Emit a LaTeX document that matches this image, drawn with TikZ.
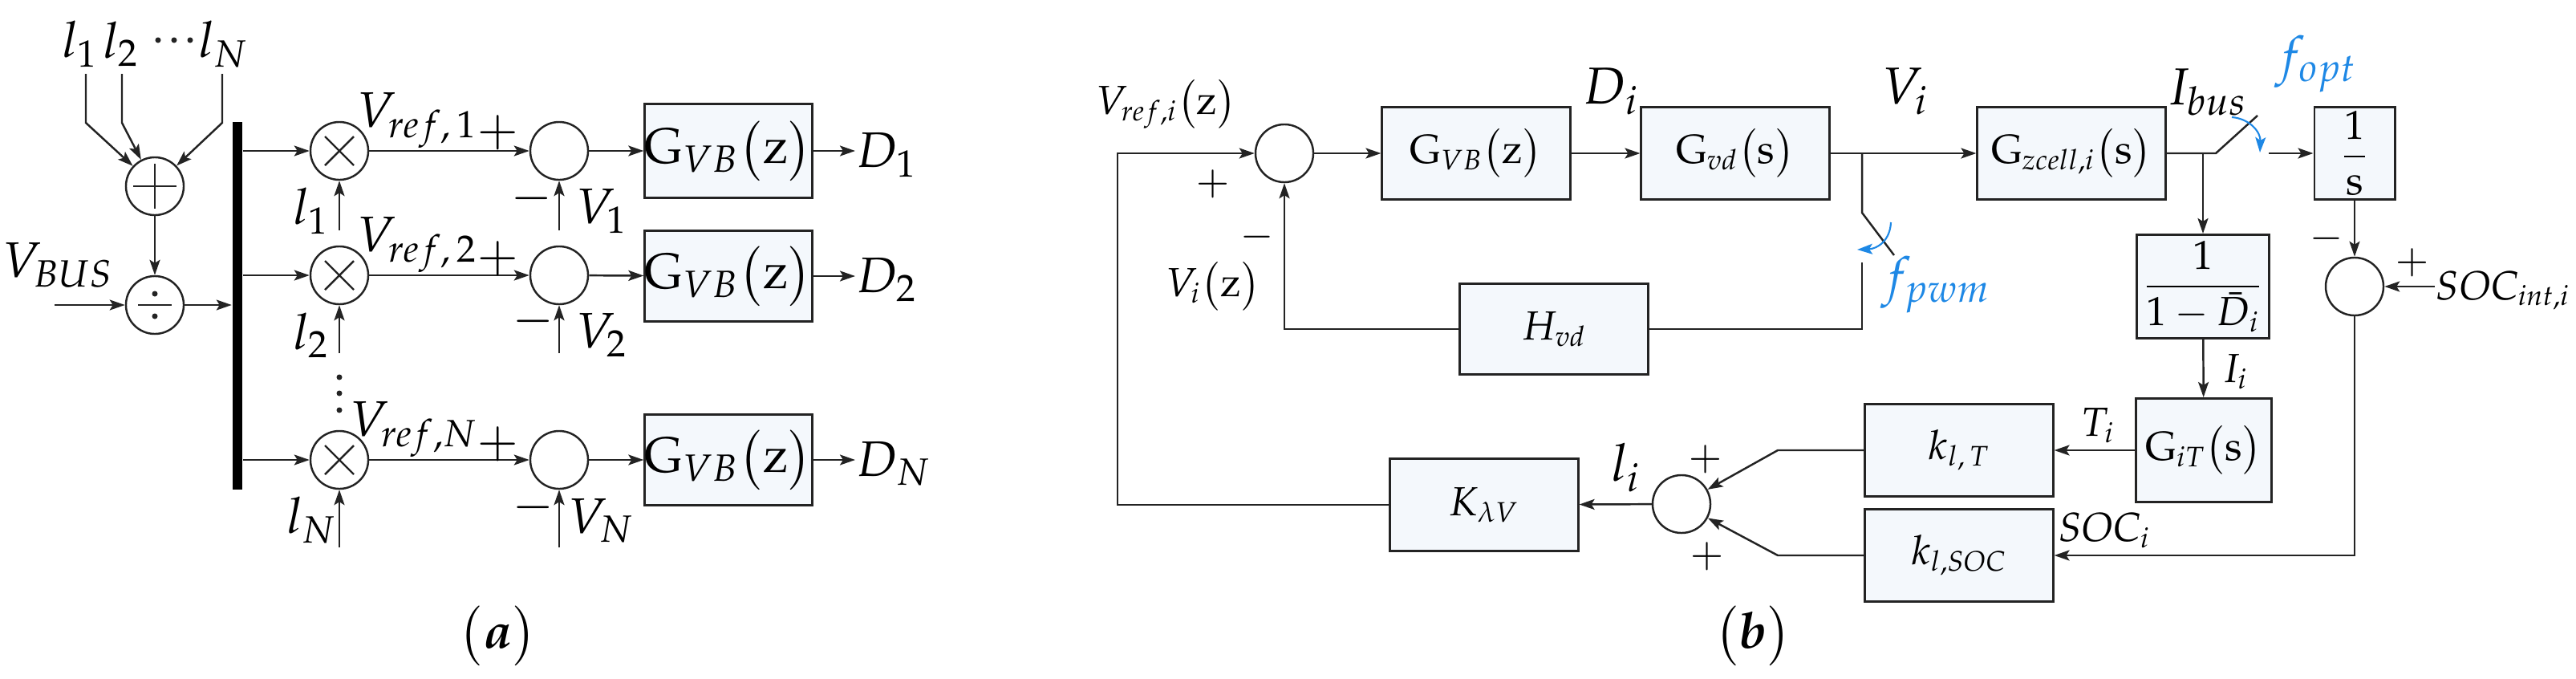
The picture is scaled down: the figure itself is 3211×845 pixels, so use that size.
\documentclass[tikz,border=0pt]{standalone}
\usepackage{amsmath}
\usepackage{mathpazo}
\usetikzlibrary{arrows.meta,calc}
\definecolor{boxfill}{RGB}{244,248,252}
\definecolor{linec}{RGB}{35,35,35}
\definecolor{fblue}{RGB}{30,136,229}
\newcommand\mycross[1]{\draw[linec] ($(#1)+(-18,-18)$) -- ($(#1)+(18,18)$); \draw[linec] ($(#1)+(18,-18)$) -- ($(#1)+(-18,18)$);}
\begin{document}
\begin{tikzpicture}[x=0.01cm,y=-0.01cm,
  line width=0.7pt, draw=linec,
  >={Stealth[length=0.19cm,width=0.13cm,inset=0.04cm]},
  blk/.style={draw=linec, fill=boxfill, line width=0.85pt, inner sep=0pt, minimum width=2.34cm, minimum height=1.14cm},
  sumc/.style={circle, draw=linec, line width=0.7pt, minimum size=0.72cm, inner sep=0pt},
  fa/.style={inner sep=0pt, font=\fontsize{17.7}{21}\selectfont},
  fb/.style={inner sep=0pt, font=\fontsize{14.4}{17}\selectfont},
  fbl/.style={inner sep=0pt, font=\fontsize{18.4}{22}\selectfont},
  blue/.style={inner sep=0pt, text=fblue, font=\fontsize{18.4}{22}\selectfont},
]
\useasboundingbox (0,0) rectangle (3211,845);

% ================= panel (a) =================
\node[fa] (l1t) at (100,55) {$l_1$};
\node[fa] (l2t) at (151,55) {$l_2$};
\node[fa] (lNt) at (278,55) {$l_N$};
\fill[linec] (197,50) circle[radius=0.035cm];
\fill[linec] (217,50) circle[radius=0.035cm];
\fill[linec] (237,50) circle[radius=0.035cm];
\coordinate (t1) at (107,92);  \coordinate (b1) at (107,153);
\coordinate (t2) at (152,92);  \coordinate (b2) at (152,153);
\coordinate (tN) at (277,92);  \coordinate (bN) at (277,153);
\node[sumc] (plus) at (193,232) {};
\draw ($(plus)+(-27,0)$) -- ($(plus)+(27,0)$);
\draw ($(plus)+(0,-28)$) -- ($(plus)+(0,28)$);
\node[sumc] (div) at (193,380) {};
\draw ($(div)+(-21,0)$) -- ($(div)+(21,0)$);
\fill[linec] ($(div)+(0,-14)$) circle[radius=0.035cm];
\fill[linec] ($(div)+(0,14)$) circle[radius=0.035cm];
\draw[->] (t1) -- (b1) -- (plus);
\draw[->] (t2) -- (b2) -- (plus);
\draw[->] (tN) -- (bN) -- (plus);
\draw[->] (plus) -- (div);
\node[fa] (vbus) at (72,330) {$V_{BUS}$};
\coordinate (vin) at (68,380);
\draw[->] (vin) -- (div);
\node[fill=black, minimum width=0.12cm, minimum height=4.58cm, inner sep=0pt] (bar) at (296,381) {};
\draw[->] (div) -- (div -| bar.west);

% rows
\foreach \r/\y in {1/188, 2/343, 3/573}{
  \node[sumc] (m\r) at (423,\y) {};
  \mycross{m\r}
  \node[sumc] (a\r) at (697,\y) {};
  \draw[->] (bar.east |- m\r) -- (m\r);
  \draw[->] (m\r) -- (a\r);
}
\node[blk, fa, minimum width=2.05cm, minimum height=1.16cm] (g1) at (908,188) {$\mathrm{G}_{VB}\bigl(\mathrm{z}\bigr)$};
\node[blk, fa, minimum width=2.05cm, minimum height=1.12cm] (g2) at (908,344) {$\mathrm{G}_{VB}\bigl(\mathrm{z}\bigr)$};
\node[blk, fa, minimum width=2.05cm, minimum height=1.13cm] (g3) at (908,573) {$\mathrm{G}_{VB}\bigl(\mathrm{z}\bigr)$};
\draw[->] (a1) -- (g1);
\draw[->] (a2) -- (g2);
\draw[->] (a3) -- (g3);
\node[fa, anchor=west] (d1) at (1066,193) {$D_1$};
\node[fa, anchor=west] (d2) at (1066,349) {$D_2$};
\node[fa, anchor=west] (d3) at (1066,578) {$D_N$};
\draw[->] (g1) -- (g1 -| d1.west);
\draw[->] (g2) -- (g2 -| d2.west);
\draw[->] (g3) -- (g3 -| d3.west);

\node[fa, anchor=east] (vr1) at (596,150) {$V_{ref,\,1}$};
\node[fa, anchor=east] (vr2) at (596,305) {$V_{ref,\,2}$};
\node[fa, anchor=east] (vr3) at (596,535) {$V_{ref,N}$};
\node[fa] at (621,165) {$+$};
\node[fa] at (621,322) {$+$};
\node[fa] at (621,553) {$+$};
\node[fa] at (663,247) {$-$};
\node[fa] at (665,400) {$-$};
\node[fa] at (665,632) {$-$};
\node[fa] (v1) at (750,263) {$V_1$};
\node[fa] (v2) at (750,418) {$V_2$};
\node[fa] (v3) at (749,649) {$V_N$};
\coordinate (v1b) at (697,287); \coordinate (v2b) at (697,440); \coordinate (v3b) at (697,682);
\draw[->] (v1b) -- (a1);
\draw[->] (v2b) -- (a2);
\draw[->] (v3b) -- (a3);
\node[fa] (l1b) at (388,263) {$l_1$};
\node[fa] (l2b) at (388,418) {$l_2$};
\node[fa] (l3b) at (388,648) {$l_N$};
\coordinate (l1c) at (423,287); \coordinate (l2c) at (423,440); \coordinate (l3c) at (423,682);
\draw[->] (l1c) -- (m1);
\draw[->] (l2c) -- (m2);
\draw[->] (l3c) -- (m3);
\fill[linec] (423,470) circle[radius=0.035cm];
\fill[linec] (423,490) circle[radius=0.035cm];
\fill[linec] (423,511) circle[radius=0.035cm];
\node[fa] (capa) at (620,792) {$\bigl(\boldsymbol{a}\bigr)$};

% ================= panel (b) =================
\node[sumc] (s1) at (1601,191) {};
\node[blk, fb] (gvb) at (1840,191) {$\mathrm{G}_{VB}\bigl(\mathrm{z}\bigr)$};
\node[blk, fb] (gvd) at (2163,191) {$\mathrm{G}_{vd}\bigl(\mathrm{s}\bigr)$};
\node[blk, fb] (gz) at (2582,191) {$\mathrm{G}_{zcell,i}\bigl(\mathrm{s}\bigr)$};
\node[blk, fb, minimum width=1.0cm] (ints) at (2935,191) {$\displaystyle\frac{1}{\mathrm{s}}$};
\node[blk, fb, minimum height=1.13cm] (hvd) at (1937,410) {$H_{vd}$};
\node[blk, fb, minimum width=1.65cm, minimum height=1.29cm] (inv) at (2746,357) {$\displaystyle\frac{1}{1-\bar{D}_i}$};
\node[blk, fb, minimum width=1.68cm, minimum height=1.29cm] (git) at (2747,561) {$\mathrm{G}_{iT}\bigl(\mathrm{s}\bigr)$};
\node[sumc] (s2) at (2935,357) {};
\node[blk, fb, minimum height=1.15cm] (klt) at (2442,561) {$k_{l,\,T}$};
\node[blk, fb, minimum height=1.14cm] (kls) at (2442,692) {$k_{l,SOC}$};
\node[sumc] (s3) at (2096,628) {};
\node[blk, fb, minimum height=1.15cm] (kv) at (1850,629) {$K_{\lambda V}$};

% labels
\node[fb] (vref) at (1454,130) {$V_{ref,i}\bigl(\mathrm{z}\bigr)$};
\node[fb] at (1512,229) {$+$};
\node[fb] at (1567,295) {$-$};
\node[fb] (viz) at (1512,357) {$V_i\bigl(\mathrm{z}\bigr)$};
\node[fbl] (di) at (2008,114) {$D_i$};
\node[fbl] (vi) at (2375,114) {$V_i$};
\node[fbl] (ibus) at (2751,115) {$I_{bus}$};
\node[blue] (fpwm) at (2413,355) {$f_{pwm}$};
\node[blue] (fopt) at (2887,80) {$f_{opt}$};
\node[fb] at (2900,297) {$-$};
\node[fb] at (3007,327) {$+$};
\node[fb, anchor=west] (socint) at (3035,362) {$SOC_{int,i}$};
\node[fb] (ii) at (2786,463) {$I_i$};
\node[fb] (ti) at (2615,530) {$T_i$};
\node[fb] (soci) at (2623,661) {$SOC_i$};
\node[fb] at (2126,572) {$+$};
\node[fb] at (2128,693) {$+$};
\node[fbl] (li) at (2027,583) {$l_i$};
\node[fa] (capb) at (2185,792) {$\bigl(\boldsymbol{b}\bigr)$};

% connectors
\coordinate (vtop) at (1393,191);
\draw[->] (kv.west) -| (vtop) -- (s1);
\draw[->] (s1) -- (gvb);
\draw[->] (gvb) -- (gvd);
\draw[->] (gvd) -- (gz);
\coordinate (j1) at (2321,191);
\coordinate (sw1a) at (2321,265);
\coordinate (sw1b) at (2361,318);
\coordinate (sw1c) at (2321,327);
\draw (j1) -- (sw1a) -- (sw1b);
\draw (sw1c) |- (hvd.east);
\draw[->] (hvd.west) -| (s1.south);
\coordinate (pa1) at (2357,277); \coordinate (pa2) at (2315,311);
\draw[fblue, line width=0.6pt, ->] (pa1) .. controls (2356,300) and (2340,310) .. (pa2);

\coordinate (j2) at (2746,191);
\coordinate (sw2a) at (2762,191);
\coordinate (sw2b) at (2814,144);
\coordinate (sw2c) at (2828,191);
\draw (gz) -- (sw2a) -- (sw2b);
\draw[->] (sw2c) -- (ints);
\coordinate (pb1) at (2782,146); \coordinate (pb2) at (2817,190);
\draw[fblue, line width=0.6pt, ->] (pb1) .. controls (2805,148) and (2818,165) .. (pb2);
\draw[->] (j2) -- (inv);
\draw[->] (ints) -- (s2);
\draw[->] (socint.west |- s2) -- (s2);
\draw[->] (s2.south) |- (kls.east);
\draw[->] (inv) -- (git);
\draw[->] (git) -- (klt);
\coordinate (kb1) at (2216,561);
\coordinate (kb2) at (2216,692);
\draw[->] (klt.west) -- (kb1) -- (s3);
\draw[->] (kls.west) -- (kb2) -- (s3);
\draw[->] (s3) -- (kv);
\end{tikzpicture}
\end{document}
